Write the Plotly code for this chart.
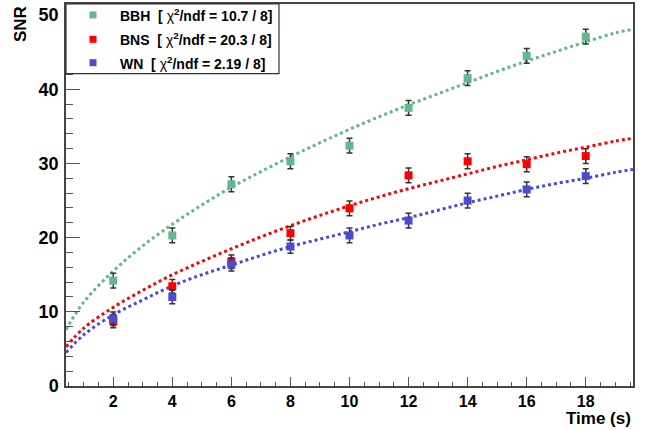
import plotly.graph_objects as go

# ---- data ----
time_s = [2, 4, 6, 8, 10, 12, 14, 16, 18]
snr_bbh = [14.2, 20.3, 27.2, 30.3, 32.4, 37.5, 41.5, 44.5, 47.1]
snr_bns = [8.75, 13.45, 16.75, 20.6, 23.95, 28.4, 30.3, 29.9, 31.0]
snr_wn = [9.07, 12.0, 16.4, 18.8, 20.3, 22.3, 25.0, 26.5, 28.3]
err_bbh = [1.0, 1.0, 1.0, 1.0, 1.0, 1.0, 1.0, 1.0, 1.0]
err_bns = [0.9, 0.9, 0.9, 0.9, 1.0, 1.0, 1.0, 1.0, 1.0]
err_wn = [0.9, 0.9, 0.9, 0.9, 1.0, 1.0, 1.0, 1.0, 1.0]

# fitted curves
fit_t = [0.4, 1, 2, 3, 4, 5, 6, 7, 8, 9, 10, 11, 12, 13, 14, 15, 16, 17, 18, 19, 19.6]
fit_bbh = [7.6, 11.3, 15.5, 18.9, 21.8, 24.4, 26.8, 28.9, 30.9, 32.8, 34.6, 36.3,
           37.9, 39.4, 40.9, 42.4, 43.8, 45.1, 46.4, 47.6, 48.1]
fit_bns = [5.3, 7.8, 10.6, 12.9, 15.0, 16.8, 18.5, 20.1, 21.6, 23.0, 24.3, 25.5,
           26.6, 27.6, 28.6, 29.6, 30.5, 31.4, 32.2, 33.0, 33.4]
fit_wn = [4.5, 6.9, 9.6, 11.6, 13.5, 15.0, 16.3, 17.6, 18.8, 19.8, 20.8, 21.8,
          22.7, 23.7, 24.7, 25.6, 26.5, 27.3, 28.0, 28.8, 29.2]

labels = ["BBH", "BNS", "WN"]
chi2 = ["10.7", "20.3", "2.19"]
ndf = ["8", "8", "8"]

colors = ["#63b68f", "#ff0000", "#4b4bd2"]
FONT = "Liberation Sans, Arial, sans-serif"

fig = go.Figure()

for fy, c in zip([fit_bbh, fit_bns, fit_wn], colors):
    fig.add_trace(go.Scatter(x=fit_t, y=fy, mode="lines", line_shape="spline",
                             line=dict(color=c, width=3, dash="dot"),
                             showlegend=False, hoverinfo="skip"))

for ys, es, c, n in zip([snr_bbh, snr_bns, snr_wn], [err_bbh, err_bns, err_wn], colors, labels):
    fig.add_trace(go.Scatter(x=time_s, y=ys, mode="markers", name=n,
                             marker=dict(symbol="square", size=8, color=c),
                             error_y=dict(type="data", array=es, visible=True,
                                          color="#333333", thickness=1.5, width=3),
                             showlegend=False))

# ---- manual legend box ----
L, T, R, B = 66, 2, 633, 386
W, H = R - L, B - T
def px(xp):
    return (xp - L) / W
def py(yp):
    return 1 - (yp - T) / H

shapes = [dict(type="rect", xref="paper", yref="paper", x0=0, x1=px(279), y0=py(72), y1=1,
               line=dict(color="#333333", width=1.2), fillcolor="white", layer="above")]
annotations = []
rows = [13, 37.5, 61]
for i in range(3):
    shapes.append(dict(type="rect", xref="paper", yref="paper", xsizemode="pixel", ysizemode="pixel",
                       xanchor=px(93), yanchor=py(rows[i]), x0=-3.5, x1=3.5, y0=-3.5, y1=3.5,
                       fillcolor=colors[i], line=dict(width=0), layer="above"))
    annotations.append(dict(xref="paper", yref="paper", x=px(118), y=py(rows[i]),
                            xanchor="left", yanchor="middle", showarrow=False,
                            text=f"<b>{labels[i]}&nbsp;&nbsp;[ </b>χ<b><sup>2</sup>/ndf = {chi2[i]} / {ndf[i]}]</b>",
                            font=dict(family=FONT, size=14, color="black")))

annotations.append(dict(xref="paper", yref="paper", x=1, y=py(419), xanchor="right", yanchor="middle",
                        showarrow=False, text="<b>Time (s)</b>",
                        font=dict(family=FONT, size=17, color="black")))
annotations.append(dict(xref="paper", yref="paper", x=px(20), y=1, xanchor="center", yanchor="top",
                        showarrow=False, text="<b>SNR</b>", textangle=-90,
                        font=dict(family=FONT, size=17, color="black")))

fig.update_layout(
    width=650, height=430,
    margin=dict(l=L, r=650 - R, t=T, b=430 - B),
    paper_bgcolor="white", plot_bgcolor="white",
    showlegend=False,
    shapes=shapes, annotations=annotations,
    font=dict(family=FONT, color="black"),
)
fig.update_xaxes(range=[0.4, 19.6], tickmode="linear", tick0=0, dtick=2,
                 ticks="inside", ticklen=9, tickwidth=1.2, tickcolor="#555555",
                 minor=dict(ticks="inside", dtick=0.5, ticklen=4, tickcolor="#555555", tickwidth=1),
                 showgrid=False, zeroline=False, showline=True, mirror=True,
                 linecolor="#444444", linewidth=1.5,
                 tickfont=dict(family=FONT, size=16, color="black", weight="bold"),
                 ticklabelstandoff=0)
fig.update_yaxes(range=[0, 51.5], tickmode="linear", tick0=0, dtick=10,
                 ticks="inside", ticklen=14, tickwidth=1.2, tickcolor="#555555",
                 minor=dict(ticks="inside", dtick=2, ticklen=7, tickcolor="#555555", tickwidth=1),
                 showgrid=False, zeroline=False, showline=True, mirror=True,
                 linecolor="#444444", linewidth=1.5,
                 tickfont=dict(family=FONT, size=18, color="black", weight="bold"),
                 ticklabelstandoff=2)

fig.write_html("out.html")
